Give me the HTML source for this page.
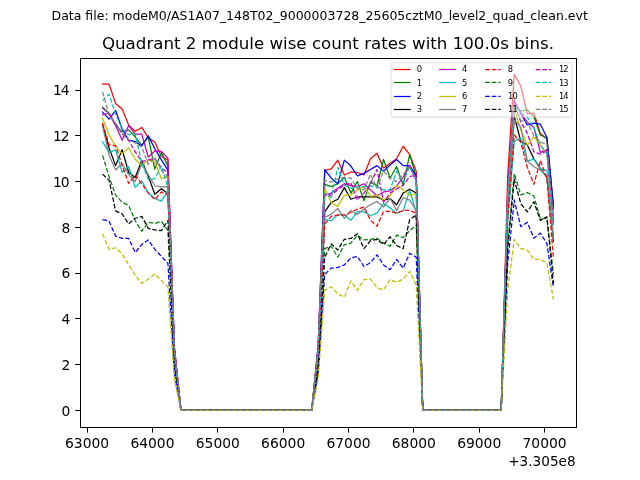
<!DOCTYPE html>
<html><head><meta charset="utf-8"><title>Quadrant 2 module wise count rates</title>
<style>html,body{margin:0;padding:0;background:#fff;overflow:hidden}svg{display:block}svg *{stroke-linejoin:round;stroke-linecap:butt}text{font-family:"DejaVu Sans","Liberation Sans",sans-serif}</style>
</head><body>
<svg width="640" height="480" viewBox="0 0 460.8 345.6" version="1.1">
 <g id="figure_1">
  <g id="patch_1">
   <path d="M 0 345.6 
L 460.8 345.6 
L 460.8 0 
L 0 0 
z
" style="fill: #ffffff"/>
  </g>
  <g id="axes_1">
   <g id="patch_2">
    <path d="M 57.6 307.584 
L 414.72 307.584 
L 414.72 41.472 
L 57.6 41.472 
z
" style="fill: #ffffff"/>
   </g>
   <g id="matplotlib.axis_1">
    <g id="xtick_1">
     <g id="line2d_1">
      <g>
       <rect x="62.6400" y="308.1600" width="0.7200" height="3.3120" fill="#000"/>
      </g>
     </g>
     <g id="text_1" transform="translate(0.000 0.720)">
      <text style="font-size: 10px; font-family: 'DejaVu Sans', sans-serif; text-anchor: middle" x="62.728601" y="322.182437" transform="rotate(-0 62.728601 322.182437)">63000</text>
     </g>
    </g>
    <g id="xtick_2">
     <g id="line2d_2">
      <g>
       <rect x="109.4400" y="308.1600" width="0.7200" height="3.3120" fill="#000"/>
      </g>
     </g>
     <g id="text_2" transform="translate(0.000 0.720)">
      <text style="font-size: 10px; font-family: 'DejaVu Sans', sans-serif; text-anchor: middle" x="109.779984" y="322.182437" transform="rotate(-0 109.779984 322.182437)">64000</text>
     </g>
    </g>
    <g id="xtick_3">
     <g id="line2d_3">
      <g>
       <rect x="156.2400" y="308.1600" width="0.7200" height="3.3120" fill="#000"/>
      </g>
     </g>
     <g id="text_3" transform="translate(0.000 0.720)">
      <text style="font-size: 10px; font-family: 'DejaVu Sans', sans-serif; text-anchor: middle" x="156.831368" y="322.182437" transform="rotate(-0 156.831368 322.182437)">65000</text>
     </g>
    </g>
    <g id="xtick_4">
     <g id="line2d_4">
      <g>
       <rect x="203.7600" y="308.1600" width="0.7200" height="3.3120" fill="#000"/>
      </g>
     </g>
     <g id="text_4" transform="translate(0.000 0.720)">
      <text style="font-size: 10px; font-family: 'DejaVu Sans', sans-serif; text-anchor: middle" x="203.882751" y="322.182437" transform="rotate(-0 203.882751 322.182437)">66000</text>
     </g>
    </g>
    <g id="xtick_5">
     <g id="line2d_5">
      <g>
       <rect x="250.5600" y="308.1600" width="0.7200" height="3.3120" fill="#000"/>
      </g>
     </g>
     <g id="text_5" transform="translate(0.000 0.720)">
      <text style="font-size: 10px; font-family: 'DejaVu Sans', sans-serif; text-anchor: middle" x="250.934134" y="322.182437" transform="rotate(-0 250.934134 322.182437)">67000</text>
     </g>
    </g>
    <g id="xtick_6">
     <g id="line2d_6">
      <g>
       <rect x="297.3600" y="308.1600" width="0.7200" height="3.3120" fill="#000"/>
      </g>
     </g>
     <g id="text_6" transform="translate(0.000 0.720)">
      <text style="font-size: 10px; font-family: 'DejaVu Sans', sans-serif; text-anchor: middle" x="297.985518" y="322.182437" transform="rotate(-0 297.985518 322.182437)">68000</text>
     </g>
    </g>
    <g id="xtick_7">
     <g id="line2d_7">
      <g>
       <rect x="344.8800" y="308.1600" width="0.7200" height="3.3120" fill="#000"/>
      </g>
     </g>
     <g id="text_7" transform="translate(0.000 0.720)">
      <text style="font-size: 10px; font-family: 'DejaVu Sans', sans-serif; text-anchor: middle" x="345.036901" y="322.182437" transform="rotate(-0 345.036901 322.182437)">69000</text>
     </g>
    </g>
    <g id="xtick_8">
     <g id="line2d_8">
      <g>
       <rect x="391.6800" y="308.1600" width="0.7200" height="3.3120" fill="#000"/>
      </g>
     </g>
     <g id="text_8" transform="translate(0.000 0.720)">
      <text style="font-size: 10px; font-family: 'DejaVu Sans', sans-serif; text-anchor: middle" x="392.088285" y="322.182437" transform="rotate(-0 392.088285 322.182437)">70000</text>
     </g>
    </g>
    <g id="text_9" transform="translate(-0.288 0.792)">
     <text style="font-size: 9.8px; font-family: 'DejaVu Sans', sans-serif; text-anchor: end" x="414.72" y="334.860562" transform="rotate(-0 414.72 334.860562)">+3.305e8</text>
    </g>
   </g>
   <g id="matplotlib.axis_2">
    <g id="ytick_1">
     <g id="line2d_9">
      <g>
       <rect x="54.1440" y="295.2000" width="3.4560" height="0.7200" fill="#000"/>
      </g>
     </g>
     <g id="text_10">
      <text style="font-size: 10px; font-family: 'DejaVu Sans', sans-serif; text-anchor: end" x="50.6" y="299.287219" transform="rotate(-0 50.6 299.287219)">0</text>
     </g>
    </g>
    <g id="ytick_2">
     <g id="line2d_10">
      <g>
       <rect x="54.1440" y="262.0800" width="3.4560" height="0.7200" fill="#000"/>
      </g>
     </g>
     <g id="text_11">
      <text style="font-size: 10px; font-family: 'DejaVu Sans', sans-serif; text-anchor: end" x="50.6" y="266.346042" transform="rotate(-0 50.6 266.346042)">2</text>
     </g>
    </g>
    <g id="ytick_3">
     <g id="line2d_11">
      <g>
       <rect x="54.1440" y="228.9600" width="3.4560" height="0.7200" fill="#000"/>
      </g>
     </g>
     <g id="text_12">
      <text style="font-size: 10px; font-family: 'DejaVu Sans', sans-serif; text-anchor: end" x="50.6" y="233.404866" transform="rotate(-0 50.6 233.404866)">4</text>
     </g>
    </g>
    <g id="ytick_4">
     <g id="line2d_12">
      <g>
       <rect x="54.1440" y="196.5600" width="3.4560" height="0.7200" fill="#000"/>
      </g>
     </g>
     <g id="text_13">
      <text style="font-size: 10px; font-family: 'DejaVu Sans', sans-serif; text-anchor: end" x="50.6" y="200.463689" transform="rotate(-0 50.6 200.463689)">6</text>
     </g>
    </g>
    <g id="ytick_5">
     <g id="line2d_13">
      <g>
       <rect x="54.1440" y="163.4400" width="3.4560" height="0.7200" fill="#000"/>
      </g>
     </g>
     <g id="text_14">
      <text style="font-size: 10px; font-family: 'DejaVu Sans', sans-serif; text-anchor: end" x="50.6" y="167.522513" transform="rotate(-0 50.6 167.522513)">8</text>
     </g>
    </g>
    <g id="ytick_6">
     <g id="line2d_14">
      <g>
       <rect x="54.1440" y="130.3200" width="3.4560" height="0.7200" fill="#000"/>
      </g>
     </g>
     <g id="text_15" transform="translate(-1.404 0.000)">
      <text style="letter-spacing: -0.864px; font-size: 10px; font-family: 'DejaVu Sans', sans-serif; text-anchor: end" x="50.6" y="134.581336" transform="rotate(-0 50.6 134.581336)">10</text>
     </g>
    </g>
    <g id="ytick_7">
     <g id="line2d_15">
      <g>
       <rect x="54.1440" y="97.2000" width="3.4560" height="0.7200" fill="#000"/>
      </g>
     </g>
     <g id="text_16" transform="translate(-1.404 0.000)">
      <text style="letter-spacing: -0.864px; font-size: 10px; font-family: 'DejaVu Sans', sans-serif; text-anchor: end" x="50.6" y="101.64016" transform="rotate(-0 50.6 101.64016)">12</text>
     </g>
    </g>
    <g id="ytick_8">
     <g id="line2d_16">
      <g>
       <rect x="54.1440" y="64.8000" width="3.4560" height="0.7200" fill="#000"/>
      </g>
     </g>
     <g id="text_17" transform="translate(-1.404 -0.504)">
      <text style="letter-spacing: -0.864px; font-size: 10px; font-family: 'DejaVu Sans', sans-serif; text-anchor: end" x="50.6" y="68.698983" transform="rotate(-0 50.6 68.698983)">14</text>
     </g>
    </g>
   </g>
   <g id="line2d_17">
    <path d="M 73.832727 60.617412 
L 78.537866 60.617412 
L 83.243004 74.452706 
L 87.948142 78.405647 
L 92.653281 90.099765 
L 97.358419 94.546824 
L 102.063557 91.746824 
L 106.768696 99.158588 
L 111.473834 102.288 
L 116.178972 112.664471 
L 120.884111 115.135059 
L 125.589249 250.399765 
L 130.294387 295.488 
L 134.999526 295.488 
L 139.704664 295.488 
L 144.409802 295.488 
L 149.114941 295.488 
L 153.820079 295.488 
L 158.525217 295.488 
L 163.230356 295.488 
L 167.935494 295.488 
L 172.640632 295.488 
L 177.345771 295.488 
L 182.050909 295.488 
L 186.756047 295.488 
L 191.461186 295.488 
L 196.166324 295.488 
L 200.871462 295.488 
L 205.576601 295.488 
L 210.281739 295.488 
L 214.986877 295.488 
L 219.692016 295.488 
L 224.397154 295.488 
L 229.102292 248.838353 
L 233.807431 122.711529 
L 238.512569 121.558588 
L 243.217708 115.299765 
L 247.922846 126.005647 
L 252.627984 123.864471 
L 257.333123 124.193882 
L 262.038261 126.005647 
L 266.743399 114.311529 
L 271.448538 110.358588 
L 276.153676 120.899765 
L 280.858814 117.605647 
L 285.563953 114.311529 
L 290.269091 105.252706 
L 294.974229 111.346824 
L 299.679368 123.205647 
L 304.384506 295.488 
L 309.089644 295.488 
L 313.794783 295.488 
L 318.499921 295.488 
L 323.205059 295.488 
L 327.910198 295.488 
L 332.615336 295.488 
L 337.320474 295.488 
L 342.025613 295.488 
L 346.730751 295.488 
L 351.435889 295.488 
L 356.141028 295.488 
L 360.846166 295.488 
L 365.551304 126.144 
L 370.256443 53.568 
L 374.961581 61.935059 
L 379.666719 81.864471 
L 384.371858 81.370353 
L 389.076996 96.193882 
L 393.782134 99.817412 
L 398.487273 148.899765 
" style="fill: none; stroke: #ff0000; stroke-width: 0.9; stroke-linecap: square"/>
   </g>
   <g id="line2d_18">
    <path d="M 73.832727 77.088 
L 78.537866 81.864471 
L 83.243004 89.935059 
L 87.948142 94.876235 
L 92.653281 93.558588 
L 97.358419 98.499765 
L 102.063557 104.429176 
L 106.768696 98.664471 
L 111.473834 121.723294 
L 116.178972 109.699765 
L 120.884111 119.582118 
L 125.589249 251.511529 
L 130.294387 295.488 
L 134.999526 295.488 
L 139.704664 295.488 
L 144.409802 295.488 
L 149.114941 295.488 
L 153.820079 295.488 
L 158.525217 295.488 
L 163.230356 295.488 
L 167.935494 295.488 
L 172.640632 295.488 
L 177.345771 295.488 
L 182.050909 295.488 
L 186.756047 295.488 
L 191.461186 295.488 
L 196.166324 295.488 
L 200.871462 295.488 
L 205.576601 295.488 
L 210.281739 295.488 
L 214.986877 295.488 
L 219.692016 295.488 
L 224.397154 295.488 
L 229.102292 251.551059 
L 233.807431 132.758588 
L 238.512569 134.405647 
L 243.217708 132.264471 
L 247.922846 127.652706 
L 252.627984 139.017412 
L 257.333123 130.617412 
L 262.038261 144.617412 
L 266.743399 131.111529 
L 271.448538 133.911529 
L 276.153676 114.805647 
L 280.858814 128.311529 
L 285.563953 119.911529 
L 290.269091 133.417412 
L 294.974229 111.346824 
L 299.679368 127.652706 
L 304.384506 295.488 
L 309.089644 295.488 
L 313.794783 295.488 
L 318.499921 295.488 
L 323.205059 295.488 
L 327.910198 295.488 
L 332.615336 295.488 
L 337.320474 295.488 
L 342.025613 295.488 
L 346.730751 295.488 
L 351.435889 295.488 
L 356.141028 295.488 
L 360.846166 295.488 
L 365.551304 142.146824 
L 370.256443 76.429176 
L 374.961581 80.052706 
L 379.666719 79.064471 
L 384.371858 84.005647 
L 389.076996 97.182118 
L 393.782134 99.488 
L 398.487273 150.546824 
" style="fill: none; stroke: #008000; stroke-width: 0.9; stroke-linecap: square"/>
   </g>
   <g id="line2d_19">
    <path d="M 73.832727 80.711529 
L 78.537866 85.817412 
L 83.243004 79.558588 
L 87.948142 92.899765 
L 92.653281 100.970353 
L 97.358419 101.958588 
L 102.063557 104.923294 
L 106.768696 97.840941 
L 111.473834 107.064471 
L 116.178972 115.135059 
L 120.884111 122.546824 
L 125.589249 252.252706 
L 130.294387 295.488 
L 134.999526 295.488 
L 139.704664 295.488 
L 144.409802 295.488 
L 149.114941 295.488 
L 153.820079 295.488 
L 158.525217 295.488 
L 163.230356 295.488 
L 167.935494 295.488 
L 172.640632 295.488 
L 177.345771 295.488 
L 182.050909 295.488 
L 186.756047 295.488 
L 191.461186 295.488 
L 196.166324 295.488 
L 200.871462 295.488 
L 205.576601 295.488 
L 210.281739 295.488 
L 214.986877 295.488 
L 219.692016 295.488 
L 224.397154 295.488 
L 229.102292 248.660471 
L 233.807431 122.052706 
L 238.512569 128.311529 
L 243.217708 132.264471 
L 247.922846 115.299765 
L 252.627984 119.582118 
L 257.333123 126.664471 
L 262.038261 124.852706 
L 266.743399 122.052706 
L 271.448538 119.252706 
L 276.153676 123.205647 
L 280.858814 118.758588 
L 285.563953 114.805647 
L 290.269091 119.252706 
L 294.974229 119.252706 
L 299.679368 126.664471 
L 304.384506 295.488 
L 309.089644 295.488 
L 313.794783 295.488 
L 318.499921 295.488 
L 323.205059 295.488 
L 327.910198 295.488 
L 332.615336 295.488 
L 337.320474 295.488 
L 342.025613 295.488 
L 346.730751 295.488 
L 351.435889 295.488 
L 356.141028 295.488 
L 360.846166 295.488 
L 365.551304 139.264471 
L 370.256443 72.311529 
L 374.961581 81.864471 
L 379.666719 89.935059 
L 384.371858 88.617412 
L 389.076996 89.440941 
L 393.782134 98.993882 
L 398.487273 148.899765 
" style="fill: none; stroke: #0000ff; stroke-width: 0.9; stroke-linecap: square"/>
   </g>
   <g id="line2d_20">
    <path d="M 73.832727 89.605647 
L 78.537866 106.570353 
L 83.243004 119.252706 
L 87.948142 107.723294 
L 92.653281 124.193882 
L 97.358419 127.817412 
L 102.063557 115.464471 
L 106.768696 126.829176 
L 111.473834 139.840941 
L 116.178972 135.888 
L 120.884111 139.346824 
L 125.589249 256.452706 
L 130.294387 295.488 
L 134.999526 295.488 
L 139.704664 295.488 
L 144.409802 295.488 
L 149.114941 295.488 
L 153.820079 295.488 
L 158.525217 295.488 
L 163.230356 295.488 
L 167.935494 295.488 
L 172.640632 295.488 
L 177.345771 295.488 
L 182.050909 295.488 
L 186.756047 295.488 
L 191.461186 295.488 
L 196.166324 295.488 
L 200.871462 295.488 
L 205.576601 295.488 
L 210.281739 295.488 
L 214.986877 295.488 
L 219.692016 295.488 
L 224.397154 295.488 
L 229.102292 256.887529 
L 233.807431 152.523294 
L 238.512569 145.770353 
L 243.217708 143.464471 
L 247.922846 135.064471 
L 252.627984 143.464471 
L 257.333123 141.817412 
L 262.038261 141.817412 
L 266.743399 141.817412 
L 271.448538 141.817412 
L 276.153676 144.123294 
L 280.858814 142.970353 
L 285.563953 147.417412 
L 290.269091 139.017412 
L 294.974229 136.217412 
L 299.679368 139.017412 
L 304.384506 295.488 
L 309.089644 295.488 
L 313.794783 295.488 
L 318.499921 295.488 
L 323.205059 295.488 
L 327.910198 295.488 
L 332.615336 295.488 
L 337.320474 295.488 
L 342.025613 295.488 
L 346.730751 295.488 
L 351.435889 295.488 
L 356.141028 295.488 
L 360.846166 295.488 
L 365.551304 147.219765 
L 370.256443 83.676235 
L 374.961581 101.629176 
L 379.666719 104.429176 
L 384.371858 114.311529 
L 389.076996 121.393882 
L 393.782134 127.652706 
L 398.487273 173.605647 
" style="fill: none; stroke: #000000; stroke-width: 0.9; stroke-linecap: square"/>
   </g>
   <g id="line2d_21">
    <path d="M 73.832727 82.688 
L 78.537866 81.370353 
L 83.243004 90.429176 
L 87.948142 100.970353 
L 92.653281 90.429176 
L 97.358419 96.523294 
L 102.063557 96.523294 
L 106.768696 113.158588 
L 111.473834 108.711529 
L 116.178972 109.040941 
L 120.884111 113.817412 
L 125.589249 250.070353 
L 130.294387 295.488 
L 134.999526 295.488 
L 139.704664 295.488 
L 144.409802 295.488 
L 149.114941 295.488 
L 153.820079 295.488 
L 158.525217 295.488 
L 163.230356 295.488 
L 167.935494 295.488 
L 172.640632 295.488 
L 177.345771 295.488 
L 182.050909 295.488 
L 186.756047 295.488 
L 191.461186 295.488 
L 196.166324 295.488 
L 200.871462 295.488 
L 205.576601 295.488 
L 210.281739 295.488 
L 214.986877 295.488 
L 219.692016 295.488 
L 224.397154 295.488 
L 229.102292 253.685647 
L 233.807431 140.664471 
L 238.512569 139.017412 
L 243.217708 135.558588 
L 247.922846 132.264471 
L 252.627984 133.417412 
L 257.333123 134.405647 
L 262.038261 132.264471 
L 266.743399 136.711529 
L 271.448538 140.993882 
L 276.153676 138.193882 
L 280.858814 137.370353 
L 285.563953 133.911529 
L 290.269091 127.652706 
L 294.974229 119.252706 
L 299.679368 129.958588 
L 304.384506 295.488 
L 309.089644 295.488 
L 313.794783 295.488 
L 318.499921 295.488 
L 323.205059 295.488 
L 327.910198 295.488 
L 332.615336 295.488 
L 337.320474 295.488 
L 342.025613 295.488 
L 346.730751 295.488 
L 351.435889 295.488 
L 356.141028 295.488 
L 360.846166 295.488 
L 365.551304 139.264471 
L 370.256443 72.311529 
L 374.961581 81.370353 
L 379.666719 87.958588 
L 384.371858 91.746824 
L 389.076996 109.699765 
L 393.782134 107.723294 
L 398.487273 158.782118 
" style="fill: none; stroke: #bf00bf; stroke-width: 0.9; stroke-linecap: square"/>
   </g>
   <g id="line2d_22">
    <path d="M 73.832727 102.123294 
L 78.537866 109.699765 
L 83.243004 107.888 
L 87.948142 124.193882 
L 92.653281 119.911529 
L 97.358419 134.899765 
L 102.063557 130.123294 
L 106.768696 139.017412 
L 111.473834 142.805647 
L 116.178972 144.782118 
L 120.884111 137.370353 
L 125.589249 255.958588 
L 130.294387 295.488 
L 134.999526 295.488 
L 139.704664 295.488 
L 144.409802 295.488 
L 149.114941 295.488 
L 153.820079 295.488 
L 158.525217 295.488 
L 163.230356 295.488 
L 167.935494 295.488 
L 172.640632 295.488 
L 177.345771 295.488 
L 182.050909 295.488 
L 186.756047 295.488 
L 191.461186 295.488 
L 196.166324 295.488 
L 200.871462 295.488 
L 205.576601 295.488 
L 210.281739 295.488 
L 214.986877 295.488 
L 219.692016 295.488 
L 224.397154 295.488 
L 229.102292 258.355059 
L 233.807431 157.958588 
L 238.512569 158.946824 
L 243.217708 154.499765 
L 247.922846 154.829176 
L 252.627984 158.617412 
L 257.333123 152.193882 
L 262.038261 152.523294 
L 266.743399 155.158588 
L 271.448538 153.511529 
L 276.153676 146.429176 
L 280.858814 149.723294 
L 285.563953 153.511529 
L 290.269091 151.864471 
L 294.974229 137.040941 
L 299.679368 152.852706 
L 304.384506 295.488 
L 309.089644 295.488 
L 313.794783 295.488 
L 318.499921 295.488 
L 323.205059 295.488 
L 327.910198 295.488 
L 332.615336 295.488 
L 337.320474 295.488 
L 342.025613 295.488 
L 346.730751 295.488 
L 351.435889 295.488 
L 356.141028 295.488 
L 360.846166 295.488 
L 365.551304 159.786824 
L 370.256443 101.629176 
L 374.961581 99.488 
L 379.666719 115.958588 
L 384.371858 114.640941 
L 389.076996 121.393882 
L 393.782134 122.711529 
L 398.487273 170.311529 
" style="fill: none; stroke: #00bfbf; stroke-width: 0.9; stroke-linecap: square"/>
   </g>
   <g id="line2d_23">
    <path d="M 73.832727 84.993882 
L 78.537866 97.182118 
L 83.243004 105.252706 
L 87.948142 110.688 
L 92.653281 106.570353 
L 97.358419 114.640941 
L 102.063557 119.252706 
L 106.768696 115.135059 
L 111.473834 116.452706 
L 116.178972 128.640941 
L 120.884111 126.829176 
L 125.589249 253.323294 
L 130.294387 295.488 
L 134.999526 295.488 
L 139.704664 295.488 
L 144.409802 295.488 
L 149.114941 295.488 
L 153.820079 295.488 
L 158.525217 295.488 
L 163.230356 295.488 
L 167.935494 295.488 
L 172.640632 295.488 
L 177.345771 295.488 
L 182.050909 295.488 
L 186.756047 295.488 
L 191.461186 295.488 
L 196.166324 295.488 
L 200.871462 295.488 
L 205.576601 295.488 
L 210.281739 295.488 
L 214.986877 295.488 
L 219.692016 295.488 
L 224.397154 295.488 
L 229.102292 252.307059 
L 233.807431 135.558588 
L 238.512569 145.770353 
L 243.217708 148.570353 
L 247.922846 140.664471 
L 252.627984 140.170353 
L 257.333123 136.711529 
L 262.038261 134.405647 
L 266.743399 141.158588 
L 271.448538 140.664471 
L 276.153676 144.123294 
L 280.858814 141.158588 
L 285.563953 133.417412 
L 290.269091 136.711529 
L 294.974229 140.664471 
L 299.679368 139.511529 
L 304.384506 295.488 
L 309.089644 295.488 
L 313.794783 295.488 
L 318.499921 295.488 
L 323.205059 295.488 
L 327.910198 295.488 
L 332.615336 295.488 
L 337.320474 295.488 
L 342.025613 295.488 
L 346.730751 295.488 
L 351.435889 295.488 
L 356.141028 295.488 
L 360.846166 295.488 
L 365.551304 143.415059 
L 370.256443 78.240941 
L 374.961581 93.558588 
L 379.666719 104.429176 
L 384.371858 98.499765 
L 389.076996 104.429176 
L 393.782134 111.017412 
L 398.487273 160.429176 
" style="fill: none; stroke: #bfbf00; stroke-width: 0.9; stroke-linecap: square"/>
   </g>
   <g id="line2d_24">
    <path d="M 73.832727 90.429176 
L 78.537866 111.840941 
L 83.243004 122.382118 
L 87.948142 117.935059 
L 92.653281 125.676235 
L 97.358419 130.782118 
L 102.063557 117.770353 
L 106.768696 125.840941 
L 111.473834 133.746824 
L 116.178972 134.570353 
L 120.884111 134.405647 
L 125.589249 255.217412 
L 130.294387 295.488 
L 134.999526 295.488 
L 139.704664 295.488 
L 144.409802 295.488 
L 149.114941 295.488 
L 153.820079 295.488 
L 158.525217 295.488 
L 163.230356 295.488 
L 167.935494 295.488 
L 172.640632 295.488 
L 177.345771 295.488 
L 182.050909 295.488 
L 186.756047 295.488 
L 191.461186 295.488 
L 196.166324 295.488 
L 200.871462 295.488 
L 205.576601 295.488 
L 210.281739 295.488 
L 214.986877 295.488 
L 219.692016 295.488 
L 224.397154 295.488 
L 229.102292 257.999294 
L 233.807431 156.640941 
L 238.512569 154.170353 
L 243.217708 150.052706 
L 247.922846 157.299765 
L 252.627984 151.535059 
L 257.333123 154.499765 
L 262.038261 150.546824 
L 266.743399 147.417412 
L 271.448538 145.111529 
L 276.153676 149.064471 
L 280.858814 142.640941 
L 285.563953 151.535059 
L 290.269091 142.311529 
L 294.974229 144.123294 
L 299.679368 151.535059 
L 304.384506 295.488 
L 309.089644 295.488 
L 313.794783 295.488 
L 318.499921 295.488 
L 323.205059 295.488 
L 327.910198 295.488 
L 332.615336 295.488 
L 337.320474 295.488 
L 342.025613 295.488 
L 346.730751 295.488 
L 351.435889 295.488 
L 356.141028 295.488 
L 360.846166 295.488 
L 365.551304 149.064471 
L 370.256443 86.311529 
L 374.961581 91.252706 
L 379.666719 115.958588 
L 384.371858 120.076235 
L 389.076996 122.382118 
L 393.782134 126.829176 
L 398.487273 171.958588 
" style="fill: none; stroke: #808080; stroke-width: 0.9; stroke-linecap: square"/>
   </g>
   <g id="line2d_25">
    <path d="M 73.832727 88.617412 
L 78.537866 104.429176 
L 83.243004 104.923294 
L 87.948142 118.923294 
L 92.653281 132.099765 
L 97.358419 126.170353 
L 102.063557 132.429176 
L 106.768696 138.852706 
L 111.473834 143.793882 
L 116.178972 138.193882 
L 120.884111 140.335059 
L 125.589249 256.699765 
L 130.294387 295.488 
L 134.999526 295.488 
L 139.704664 295.488 
L 144.409802 295.488 
L 149.114941 295.488 
L 153.820079 295.488 
L 158.525217 295.488 
L 163.230356 295.488 
L 167.935494 295.488 
L 172.640632 295.488 
L 177.345771 295.488 
L 182.050909 295.488 
L 186.756047 295.488 
L 191.461186 295.488 
L 196.166324 295.488 
L 200.871462 295.488 
L 205.576601 295.488 
L 210.281739 295.488 
L 214.986877 295.488 
L 219.692016 295.488 
L 224.397154 295.488 
L 229.102292 259.244471 
L 233.807431 161.252706 
L 238.512569 155.817412 
L 243.217708 154.829176 
L 247.922846 154.829176 
L 252.627984 152.852706 
L 257.333123 150.546824 
L 262.038261 149.064471 
L 266.743399 158.617412 
L 271.448538 162.899765 
L 276.153676 152.193882 
L 280.858814 152.193882 
L 285.563953 153.511529 
L 290.269091 151.535059 
L 294.974229 151.535059 
L 299.679368 153.511529 
L 304.384506 295.488 
L 309.089644 295.488 
L 313.794783 295.488 
L 318.499921 295.488 
L 323.205059 295.488 
L 327.910198 295.488 
L 332.615336 295.488 
L 337.320474 295.488 
L 342.025613 295.488 
L 346.730751 295.488 
L 351.435889 295.488 
L 356.141028 295.488 
L 360.846166 295.488 
L 365.551304 156.673882 
L 370.256443 97.182118 
L 374.961581 102.452706 
L 379.666719 120.570353 
L 384.371858 132.758588 
L 389.076996 115.629176 
L 393.782134 128.640941 
L 398.487273 186.288 
" style="fill: none; stroke-dasharray: 3.33,1.44; stroke-dashoffset: 0; stroke: #ff0000; stroke-width: 0.9"/>
   </g>
   <g id="line2d_26">
    <path d="M 73.832727 111.840941 
L 78.537866 127.158588 
L 83.243004 140.499765 
L 87.948142 145.605647 
L 92.653281 147.911529 
L 97.358419 158.946824 
L 102.063557 166.523294 
L 106.768696 160.099765 
L 111.473834 160.923294 
L 116.178972 159.276235 
L 120.884111 166.029176 
L 125.589249 263.123294 
L 130.294387 295.488 
L 134.999526 295.488 
L 139.704664 295.488 
L 144.409802 295.488 
L 149.114941 295.488 
L 153.820079 295.488 
L 158.525217 295.488 
L 163.230356 295.488 
L 167.935494 295.488 
L 172.640632 295.488 
L 177.345771 295.488 
L 182.050909 295.488 
L 186.756047 295.488 
L 191.461186 295.488 
L 196.166324 295.488 
L 200.871462 295.488 
L 205.576601 295.488 
L 210.281739 295.488 
L 214.986877 295.488 
L 219.692016 295.488 
L 224.397154 295.488 
L 229.102292 264.047294 
L 233.807431 179.040941 
L 238.512569 177.229176 
L 243.217708 185.135059 
L 247.922846 176.076235 
L 252.627984 175.088 
L 257.333123 169.323294 
L 262.038261 172.782118 
L 266.743399 172.288 
L 271.448538 171.629176 
L 276.153676 175.088 
L 280.858814 177.229176 
L 285.563953 169.323294 
L 290.269091 171.135059 
L 294.974229 166.029176 
L 299.679368 162.076235 
L 304.384506 295.488 
L 309.089644 295.488 
L 313.794783 295.488 
L 318.499921 295.488 
L 323.205059 295.488 
L 327.910198 295.488 
L 332.615336 295.488 
L 337.320474 295.488 
L 342.025613 295.488 
L 346.730751 295.488 
L 351.435889 295.488 
L 356.141028 295.488 
L 360.846166 295.488 
L 365.551304 176.158588 
L 370.256443 125.017412 
L 374.961581 140.335059 
L 379.666719 138.688 
L 384.371858 141.158588 
L 389.076996 157.464471 
L 393.782134 157.135059 
L 398.487273 197.158588 
" style="fill: none; stroke-dasharray: 3.33,1.44; stroke-dashoffset: 0; stroke: #008000; stroke-width: 0.9"/>
   </g>
   <g id="line2d_27">
    <path d="M 73.832727 158.123294 
L 78.537866 159.276235 
L 83.243004 169.982118 
L 87.948142 171.629176 
L 92.653281 171.629176 
L 97.358419 181.840941 
L 102.063557 176.076235 
L 106.768696 172.782118 
L 111.473834 179.535059 
L 116.178972 184.640941 
L 120.884111 189.582118 
L 125.589249 269.011529 
L 130.294387 295.488 
L 134.999526 295.488 
L 139.704664 295.488 
L 144.409802 295.488 
L 149.114941 295.488 
L 153.820079 295.488 
L 158.525217 295.488 
L 163.230356 295.488 
L 167.935494 295.488 
L 172.640632 295.488 
L 177.345771 295.488 
L 182.050909 295.488 
L 186.756047 295.488 
L 191.461186 295.488 
L 196.166324 295.488 
L 200.871462 295.488 
L 205.576601 295.488 
L 210.281739 295.488 
L 214.986877 295.488 
L 219.692016 295.488 
L 224.397154 295.488 
L 229.102292 269.028 
L 233.807431 197.488 
L 238.512569 193.040941 
L 243.217708 192.546824 
L 247.922846 190.735059 
L 252.627984 185.793882 
L 257.333123 184.640941 
L 262.038261 191.888 
L 266.743399 189.088 
L 271.448538 183.488 
L 276.153676 190.735059 
L 280.858814 194.193882 
L 285.563953 186.782118 
L 290.269091 193.040941 
L 294.974229 182.335059 
L 299.679368 185.135059 
L 304.384506 295.488 
L 309.089644 295.488 
L 313.794783 295.488 
L 318.499921 295.488 
L 323.205059 295.488 
L 327.910198 295.488 
L 332.615336 295.488 
L 337.320474 295.488 
L 342.025613 295.488 
L 346.730751 295.488 
L 351.435889 295.488 
L 356.141028 295.488 
L 360.846166 295.488 
L 365.551304 189.417412 
L 370.256443 143.958588 
L 374.961581 163.229176 
L 379.666719 160.099765 
L 384.371858 171.464471 
L 389.076996 167.840941 
L 393.782134 175.417412 
L 398.487273 207.040941 
" style="fill: none; stroke-dasharray: 3.33,1.44; stroke-dashoffset: 0; stroke: #0000ff; stroke-width: 0.9"/>
   </g>
   <g id="line2d_28">
    <path d="M 73.832727 125.346824 
L 78.537866 129.793882 
L 83.243004 151.864471 
L 87.948142 154.005647 
L 92.653281 161.252706 
L 97.358419 157.135059 
L 102.063557 155.817412 
L 106.768696 164.382118 
L 111.473834 165.535059 
L 116.178972 166.029176 
L 120.884111 158.782118 
L 125.589249 261.311529 
L 130.294387 295.488 
L 134.999526 295.488 
L 139.704664 295.488 
L 144.409802 295.488 
L 149.114941 295.488 
L 153.820079 295.488 
L 158.525217 295.488 
L 163.230356 295.488 
L 167.935494 295.488 
L 172.640632 295.488 
L 177.345771 295.488 
L 182.050909 295.488 
L 186.756047 295.488 
L 191.461186 295.488 
L 196.166324 295.488 
L 200.871462 295.488 
L 205.576601 295.488 
L 210.281739 295.488 
L 214.986877 295.488 
L 219.692016 295.488 
L 224.397154 295.488 
L 229.102292 265.692706 
L 233.807431 185.135059 
L 238.512569 175.582118 
L 243.217708 180.029176 
L 247.922846 172.288 
L 252.627984 171.629176 
L 257.333123 168.335059 
L 262.038261 179.040941 
L 266.743399 173.276235 
L 271.448538 172.288 
L 276.153676 176.076235 
L 280.858814 170.476235 
L 285.563953 176.735059 
L 290.269091 179.040941 
L 294.974229 158.123294 
L 299.679368 154.829176 
L 304.384506 295.488 
L 309.089644 295.488 
L 313.794783 295.488 
L 318.499921 295.488 
L 323.205059 295.488 
L 327.910198 295.488 
L 332.615336 295.488 
L 337.320474 295.488 
L 342.025613 295.488 
L 346.730751 295.488 
L 351.435889 295.488 
L 356.141028 295.488 
L 360.846166 295.488 
L 365.551304 179.040941 
L 370.256443 129.135059 
L 374.961581 146.593882 
L 379.666719 152.523294 
L 384.371858 145.276235 
L 389.076996 158.782118 
L 393.782134 156.146824 
L 398.487273 204.240941 
" style="fill: none; stroke-dasharray: 3.33,1.44; stroke-dashoffset: 0; stroke: #000000; stroke-width: 0.9"/>
   </g>
   <g id="line2d_29">
    <path d="M 73.832727 77.746824 
L 78.537866 81.864471 
L 83.243004 89.605647 
L 87.948142 96.193882 
L 92.653281 101.135059 
L 97.358419 109.370353 
L 102.063557 116.288 
L 106.768696 115.135059 
L 111.473834 114.311529 
L 116.178972 120.899765 
L 120.884111 124.193882 
L 125.589249 252.664471 
L 130.294387 295.488 
L 134.999526 295.488 
L 139.704664 295.488 
L 144.409802 295.488 
L 149.114941 295.488 
L 153.820079 295.488 
L 158.525217 295.488 
L 163.230356 295.488 
L 167.935494 295.488 
L 172.640632 295.488 
L 177.345771 295.488 
L 182.050909 295.488 
L 186.756047 295.488 
L 191.461186 295.488 
L 196.166324 295.488 
L 200.871462 295.488 
L 205.576601 295.488 
L 210.281739 295.488 
L 214.986877 295.488 
L 219.692016 295.488 
L 224.397154 295.488 
L 229.102292 253.463294 
L 233.807431 139.840941 
L 238.512569 140.664471 
L 243.217708 136.546824 
L 247.922846 133.252706 
L 252.627984 131.605647 
L 257.333123 144.123294 
L 262.038261 139.017412 
L 266.743399 132.264471 
L 271.448538 122.052706 
L 276.153676 145.605647 
L 280.858814 139.017412 
L 285.563953 136.052706 
L 290.269091 133.417412 
L 294.974229 127.158588 
L 299.679368 126.005647 
L 304.384506 295.488 
L 309.089644 295.488 
L 313.794783 295.488 
L 318.499921 295.488 
L 323.205059 295.488 
L 327.910198 295.488 
L 332.615336 295.488 
L 337.320474 295.488 
L 342.025613 295.488 
L 346.730751 295.488 
L 351.435889 295.488 
L 356.141028 295.488 
L 360.846166 295.488 
L 365.551304 140.993882 
L 370.256443 74.782118 
L 374.961581 87.629176 
L 379.666719 95.864471 
L 384.371858 109.370353 
L 389.076996 111.017412 
L 393.782134 108.382118 
L 398.487273 160.429176 
" style="fill: none; stroke-dasharray: 3.33,1.44; stroke-dashoffset: 0; stroke: #bf00bf; stroke-width: 0.9"/>
   </g>
   <g id="line2d_30">
    <path d="M 73.832727 72.476235 
L 78.537866 67.864471 
L 83.243004 82.193882 
L 87.948142 92.735059 
L 92.653281 97.017412 
L 97.358419 96.193882 
L 102.063557 117.605647 
L 106.768696 129.135059 
L 111.473834 128.640941 
L 116.178972 119.582118 
L 120.884111 134.899765 
L 125.589249 255.340941 
L 130.294387 295.488 
L 134.999526 295.488 
L 139.704664 295.488 
L 144.409802 295.488 
L 149.114941 295.488 
L 153.820079 295.488 
L 158.525217 295.488 
L 163.230356 295.488 
L 167.935494 295.488 
L 172.640632 295.488 
L 177.345771 295.488 
L 182.050909 295.488 
L 186.756047 295.488 
L 191.461186 295.488 
L 196.166324 295.488 
L 200.871462 295.488 
L 205.576601 295.488 
L 210.281739 295.488 
L 214.986877 295.488 
L 219.692016 295.488 
L 224.397154 295.488 
L 229.102292 253.240941 
L 233.807431 139.017412 
L 238.512569 142.311529 
L 243.217708 120.405647 
L 247.922846 133.417412 
L 252.627984 135.558588 
L 257.333123 134.405647 
L 262.038261 134.405647 
L 266.743399 133.911529 
L 271.448538 134.405647 
L 276.153676 136.711529 
L 280.858814 136.711529 
L 285.563953 123.205647 
L 290.269091 131.111529 
L 294.974229 119.911529 
L 299.679368 131.111529 
L 304.384506 295.488 
L 309.089644 295.488 
L 313.794783 295.488 
L 318.499921 295.488 
L 323.205059 295.488 
L 327.910198 295.488 
L 332.615336 295.488 
L 337.320474 295.488 
L 342.025613 295.488 
L 346.730751 295.488 
L 351.435889 295.488 
L 356.141028 295.488 
L 360.846166 295.488 
L 365.551304 142.146824 
L 370.256443 76.429176 
L 374.961581 80.876235 
L 379.666719 84.499765 
L 384.371858 91.746824 
L 389.076996 104.429176 
L 393.782134 110.688 
L 398.487273 162.076235 
" style="fill: none; stroke-dasharray: 3.33,1.44; stroke-dashoffset: 0; stroke: #00bfbf; stroke-width: 0.9"/>
   </g>
   <g id="line2d_31">
    <path d="M 73.832727 168.335059 
L 78.537866 179.535059 
L 83.243004 178.382118 
L 87.948142 182.829176 
L 92.653281 190.735059 
L 97.358419 198.146824 
L 102.063557 204.076235 
L 106.768696 200.946824 
L 111.473834 197.323294 
L 116.178972 202.099765 
L 120.884111 206.546824 
L 125.589249 273.252706 
L 130.294387 295.488 
L 134.999526 295.488 
L 139.704664 295.488 
L 144.409802 295.488 
L 149.114941 295.488 
L 153.820079 295.488 
L 158.525217 295.488 
L 163.230356 295.488 
L 167.935494 295.488 
L 172.640632 295.488 
L 177.345771 295.488 
L 182.050909 295.488 
L 186.756047 295.488 
L 191.461186 295.488 
L 196.166324 295.488 
L 200.871462 295.488 
L 205.576601 295.488 
L 210.281739 295.488 
L 214.986877 295.488 
L 219.692016 295.488 
L 224.397154 295.488 
L 229.102292 272.096471 
L 233.807431 208.852706 
L 238.512569 206.546824 
L 243.217708 211.488 
L 247.922846 213.958588 
L 252.627984 202.264471 
L 257.333123 209.017412 
L 262.038261 201.276235 
L 266.743399 200.946824 
L 271.448538 207.205647 
L 276.153676 208.688 
L 280.858814 201.276235 
L 285.563953 203.252706 
L 290.269091 200.946824 
L 294.974229 195.346824 
L 299.679368 205.393882 
L 304.384506 295.488 
L 309.089644 295.488 
L 313.794783 295.488 
L 318.499921 295.488 
L 323.205059 295.488 
L 327.910198 295.488 
L 332.615336 295.488 
L 337.320474 295.488 
L 342.025613 295.488 
L 346.730751 295.488 
L 351.435889 295.488 
L 356.141028 295.488 
L 360.846166 295.488 
L 365.551304 209.248 
L 370.256443 172.288 
L 374.961581 179.040941 
L 379.666719 180.029176 
L 384.371858 186.782118 
L 389.076996 186.782118 
L 393.782134 189.417412 
L 398.487273 215.605647 
" style="fill: none; stroke-dasharray: 3.33,1.44; stroke-dashoffset: 0; stroke: #bfbf00; stroke-width: 0.9"/>
   </g>
   <g id="line2d_32">
    <path d="M 73.832727 66.217412 
L 78.537866 83.017412 
L 83.243004 88.782118 
L 87.948142 96.193882 
L 92.653281 100.640941 
L 97.358419 102.946824 
L 102.063557 105.746824 
L 106.768696 118.429176 
L 111.473834 113.323294 
L 116.178972 122.546824 
L 120.884111 127.488 
L 125.589249 253.488 
L 130.294387 295.488 
L 134.999526 295.488 
L 139.704664 295.488 
L 144.409802 295.488 
L 149.114941 295.488 
L 153.820079 295.488 
L 158.525217 295.488 
L 163.230356 295.488 
L 167.935494 295.488 
L 172.640632 295.488 
L 177.345771 295.488 
L 182.050909 295.488 
L 186.756047 295.488 
L 191.461186 295.488 
L 196.166324 295.488 
L 200.871462 295.488 
L 205.576601 295.488 
L 210.281739 295.488 
L 214.986877 295.488 
L 219.692016 295.488 
L 224.397154 295.488 
L 229.102292 250.795059 
L 233.807431 129.958588 
L 238.512569 131.111529 
L 243.217708 128.805647 
L 247.922846 127.652706 
L 252.627984 128.311529 
L 257.333123 135.558588 
L 262.038261 136.711529 
L 266.743399 125.511529 
L 271.448538 135.558588 
L 276.153676 123.205647 
L 280.858814 128.805647 
L 285.563953 130.617412 
L 290.269091 125.511529 
L 294.974229 120.405647 
L 299.679368 128.805647 
L 304.384506 295.488 
L 309.089644 295.488 
L 313.794783 295.488 
L 318.499921 295.488 
L 323.205059 295.488 
L 327.910198 295.488 
L 332.615336 295.488 
L 337.320474 295.488 
L 342.025613 295.488 
L 346.730751 295.488 
L 351.435889 295.488 
L 356.141028 295.488 
L 360.846166 295.488 
L 365.551304 140.993882 
L 370.256443 74.782118 
L 374.961581 86.805647 
L 379.666719 87.629176 
L 384.371858 97.840941 
L 389.076996 102.288 
L 393.782134 104.099765 
L 398.487273 157.135059 
" style="fill: none; stroke-dasharray: 3.33,1.44; stroke-dashoffset: 0; stroke: #808080; stroke-width: 0.9"/>
   </g>
   <g id="spines" fill="#000"><rect x="57.599999999999994" y="41.76" width="0.72" height="266.4"/><rect x="414.71999999999997" y="41.76" width="0.72" height="266.4"/><rect x="57.599999999999994" y="41.76" width="357.84" height="0.72"/><rect x="57.599999999999994" y="307.44" width="357.84" height="0.72"/></g>
   <g id="text_18">
    <text style="font-size: 12px; font-family: 'DejaVu Sans', sans-serif; text-anchor: middle" x="236.16" y="35.472" transform="rotate(-0 236.16 35.472)">Quadrant 2 module wise count rates with 100.0s bins.</text>
   </g>
   <g id="legend_1" transform="translate(0 0.612)">
    <g id="patch_7">
     <path d="M 282.855 83.8395 
L 410.52 83.8395 
Q 411.72 83.8395 411.72 82.6395 
L 411.72 45.672 
Q 411.72 44.472 410.52 44.472 
L 282.855 44.472 
Q 281.655 44.472 281.655 45.672 
L 281.655 82.6395 
Q 281.655 83.8395 282.855 83.8395 
z
" style="fill: #ffffff; opacity: 0.5; stroke: #cccccc; stroke-linejoin: miter"/>
    </g>
    <g id="line2d_33">
     <path d="M 284.055 49.4280 
L 289.635 49.4280 
L 295.215 49.4280 
" style="fill: none; stroke: #ff0000; stroke-width: 0.9; stroke-linecap: square"/>
    </g>
    <g id="text_19">
     <text style="font-size: 6px; font-family: 'DejaVu Sans', sans-serif; text-anchor: start" x="300.015" y="51.431062" transform="rotate(-0 300.015 51.431062)">0</text>
    </g>
    <g id="line2d_34">
     <path d="M 284.055 58.7880 
L 289.635 58.7880 
L 295.215 58.7880 
" style="fill: none; stroke: #008000; stroke-width: 0.9; stroke-linecap: square"/>
    </g>
    <g id="text_20">
     <text style="font-size: 6px; font-family: 'DejaVu Sans', sans-serif; text-anchor: start" x="300.015" y="61.017938" transform="rotate(-0 300.015 61.017938)">1</text>
    </g>
    <g id="line2d_35">
     <path d="M 284.055 68.8680 
L 289.635 68.8680 
L 295.215 68.8680 
" style="fill: none; stroke: #0000ff; stroke-width: 0.9; stroke-linecap: square"/>
    </g>
    <g id="text_21">
     <text style="font-size: 6px; font-family: 'DejaVu Sans', sans-serif; text-anchor: start" x="300.015" y="70.604812" transform="rotate(-0 300.015 70.604812)">2</text>
    </g>
    <g id="line2d_36">
     <path d="M 284.055 78.2280 
L 289.635 78.2280 
L 295.215 78.2280 
" style="fill: none; stroke: #000000; stroke-width: 0.9; stroke-linecap: square"/>
    </g>
    <g id="text_22">
     <text style="font-size: 6px; font-family: 'DejaVu Sans', sans-serif; text-anchor: start" x="300.015" y="80.191688" transform="rotate(-0 300.015 80.191688)">3</text>
    </g>
    <g id="line2d_37">
     <path d="M 316.6725 49.4280 
L 322.2525 49.4280 
L 327.8325 49.4280 
" style="fill: none; stroke: #bf00bf; stroke-width: 0.9; stroke-linecap: square"/>
    </g>
    <g id="text_23">
     <text style="font-size: 6px; font-family: 'DejaVu Sans', sans-serif; text-anchor: start" x="332.6325" y="51.431062" transform="rotate(-0 332.6325 51.431062)">4</text>
    </g>
    <g id="line2d_38">
     <path d="M 316.6725 58.7880 
L 322.2525 58.7880 
L 327.8325 58.7880 
" style="fill: none; stroke: #00bfbf; stroke-width: 0.9; stroke-linecap: square"/>
    </g>
    <g id="text_24">
     <text style="font-size: 6px; font-family: 'DejaVu Sans', sans-serif; text-anchor: start" x="332.6325" y="61.017938" transform="rotate(-0 332.6325 61.017938)">5</text>
    </g>
    <g id="line2d_39">
     <path d="M 316.6725 68.8680 
L 322.2525 68.8680 
L 327.8325 68.8680 
" style="fill: none; stroke: #bfbf00; stroke-width: 0.9; stroke-linecap: square"/>
    </g>
    <g id="text_25">
     <text style="font-size: 6px; font-family: 'DejaVu Sans', sans-serif; text-anchor: start" x="332.6325" y="70.604812" transform="rotate(-0 332.6325 70.604812)">6</text>
    </g>
    <g id="line2d_40">
     <path d="M 316.6725 78.2280 
L 322.2525 78.2280 
L 327.8325 78.2280 
" style="fill: none; stroke: #808080; stroke-width: 0.9; stroke-linecap: square"/>
    </g>
    <g id="text_26">
     <text style="font-size: 6px; font-family: 'DejaVu Sans', sans-serif; text-anchor: start" x="332.6325" y="80.191688" transform="rotate(-0 332.6325 80.191688)">7</text>
    </g>
    <g id="line2d_41">
     <path d="M 349.29 49.4280 
L 354.87 49.4280 
L 360.45 49.4280 
" style="fill: none; stroke-dasharray: 3.33,1.44; stroke-dashoffset: 0; stroke: #ff0000; stroke-width: 0.9"/>
    </g>
    <g id="text_27" transform="translate(0.360 0.000)">
     <text style="font-size: 6px; font-family: 'DejaVu Sans', sans-serif; text-anchor: start" x="365.25" y="51.431062" transform="rotate(-0 365.25 51.431062)">8</text>
    </g>
    <g id="line2d_42">
     <path d="M 349.29 58.7880 
L 354.87 58.7880 
L 360.45 58.7880 
" style="fill: none; stroke-dasharray: 3.33,1.44; stroke-dashoffset: 0; stroke: #008000; stroke-width: 0.9"/>
    </g>
    <g id="text_28" transform="translate(0.360 0.000)">
     <text style="font-size: 6px; font-family: 'DejaVu Sans', sans-serif; text-anchor: start" x="365.25" y="61.017938" transform="rotate(-0 365.25 61.017938)">9</text>
    </g>
    <g id="line2d_43">
     <path d="M 349.29 68.8680 
L 354.87 68.8680 
L 360.45 68.8680 
" style="fill: none; stroke-dasharray: 3.33,1.44; stroke-dashoffset: 0; stroke: #0000ff; stroke-width: 0.9"/>
    </g>
    <g id="text_29" transform="translate(0.576 0.000)">
     <text style="letter-spacing: -0.648px; font-size: 6px; font-family: 'DejaVu Sans', sans-serif; text-anchor: start" x="365.25" y="70.604812" transform="rotate(-0 365.25 70.604812)">10</text>
    </g>
    <g id="line2d_44">
     <path d="M 349.29 78.2280 
L 354.87 78.2280 
L 360.45 78.2280 
" style="fill: none; stroke-dasharray: 3.33,1.44; stroke-dashoffset: 0; stroke: #000000; stroke-width: 0.9"/>
    </g>
    <g id="text_30" transform="translate(0.576 0.000)">
     <text style="letter-spacing: -0.648px; font-size: 6px; font-family: 'DejaVu Sans', sans-serif; text-anchor: start" x="365.25" y="80.191688" transform="rotate(-0 365.25 80.191688)">11</text>
    </g>
    <g id="line2d_45">
     <path d="M 385.725 49.4280 
L 391.305 49.4280 
L 396.885 49.4280 
" style="fill: none; stroke-dasharray: 3.33,1.44; stroke-dashoffset: 0; stroke: #bf00bf; stroke-width: 0.9"/>
    </g>
    <g id="text_31" transform="translate(0.864 0.000)">
     <text style="letter-spacing: -0.792px; font-size: 6px; font-family: 'DejaVu Sans', sans-serif; text-anchor: start" x="401.685" y="51.431062" transform="rotate(-0 401.685 51.431062)">12</text>
    </g>
    <g id="line2d_46">
     <path d="M 385.725 58.7880 
L 391.305 58.7880 
L 396.885 58.7880 
" style="fill: none; stroke-dasharray: 3.33,1.44; stroke-dashoffset: 0; stroke: #00bfbf; stroke-width: 0.9"/>
    </g>
    <g id="text_32" transform="translate(0.864 0.000)">
     <text style="letter-spacing: -0.792px; font-size: 6px; font-family: 'DejaVu Sans', sans-serif; text-anchor: start" x="401.685" y="61.017938" transform="rotate(-0 401.685 61.017938)">13</text>
    </g>
    <g id="line2d_47">
     <path d="M 385.725 68.8680 
L 391.305 68.8680 
L 396.885 68.8680 
" style="fill: none; stroke-dasharray: 3.33,1.44; stroke-dashoffset: 0; stroke: #bfbf00; stroke-width: 0.9"/>
    </g>
    <g id="text_33" transform="translate(0.864 0.000)">
     <text style="letter-spacing: -0.792px; font-size: 6px; font-family: 'DejaVu Sans', sans-serif; text-anchor: start" x="401.685" y="70.604812" transform="rotate(-0 401.685 70.604812)">14</text>
    </g>
    <g id="line2d_48">
     <path d="M 385.725 78.2280 
L 391.305 78.2280 
L 396.885 78.2280 
" style="fill: none; stroke-dasharray: 3.33,1.44; stroke-dashoffset: 0; stroke: #808080; stroke-width: 0.9"/>
    </g>
    <g id="text_34" transform="translate(0.864 0.000)">
     <text style="letter-spacing: -0.792px; font-size: 6px; font-family: 'DejaVu Sans', sans-serif; text-anchor: start" x="401.685" y="80.191688" transform="rotate(-0 401.685 80.191688)">15</text>
    </g>
   </g>
  </g>
  <g id="text_35" transform="translate(-0.216 0.648)">
   <text style="font-size: 9px; font-family: 'DejaVu Sans', sans-serif; text-anchor: middle" x="230.4" y="13.750594" transform="rotate(-0 230.4 13.750594)">Data file: modeM0/AS1A07_148T02_9000003728_25605cztM0_level2_quad_clean.evt</text>
  </g>
 </g>
</svg>

</body></html>
